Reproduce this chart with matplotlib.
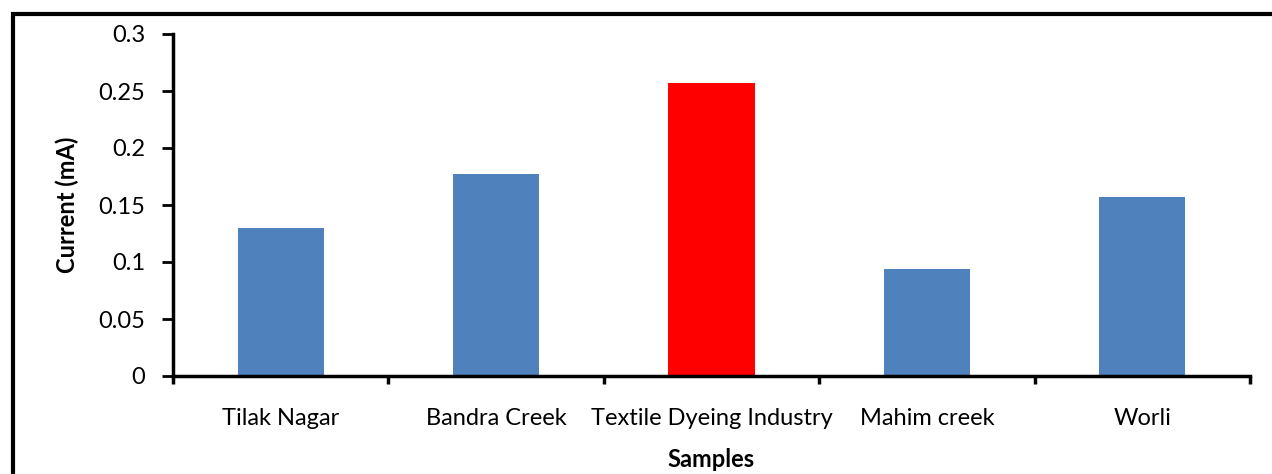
import matplotlib
matplotlib.use("Agg")
import matplotlib.pyplot as plt
from matplotlib.lines import Line2D
import numpy as np

categories = ["Tilak Nagar", "Bandra Creek", "Textile Dyeing Industry", "Mahim creek", "Worli"]
values = [0.130, 0.177, 0.257, 0.094, 0.157]
colors = ["#4F81BD", "#4F81BD", "#FF0000", "#4F81BD", "#4F81BD"]
yticks = [0, 0.05, 0.1, 0.15, 0.2, 0.25, 0.3]
ytick_labels = ["0", "0.05", "0.1", "0.15", "0.2", "0.25", "0.3"]

plt.rcParams['font.family'] = ['Lato', 'DejaVu Sans']
fs = 17

fig = plt.figure(figsize=(12.72, 4.74), dpi=100)
ax = fig.add_axes([173/1272, 1-376/474, (1250-173)/1272, (376-34)/474])

x = np.arange(len(categories))
ax.bar(x, values, width=0.4, color=colors)
ax.set_xlim(-0.5, len(categories)-0.5)
ax.set_ylim(0, 0.3)
ax.set_yticks(yticks)
ax.set_yticklabels(ytick_labels, fontsize=fs)
ax.set_xticks(x)
ax.set_xticklabels(categories, fontsize=fs)
ax.tick_params(axis='x', which='major', length=0, pad=23)
ax.set_xticks(np.arange(len(categories)+1)-0.5, minor=True)
ax.tick_params(axis='x', which='minor', length=6, width=2.5, direction='out')
ax.tick_params(axis='y', length=8, width=2, direction='out', pad=12)

for s in ['top', 'right']:
    ax.spines[s].set_visible(False)
for s in ['left', 'bottom']:
    ax.spines[s].set_linewidth(2.5)
    ax.spines[s].set_color('black')

ax.set_ylabel("Current (mA)", fontsize=fs, fontweight='bold', labelpad=14)
ax.set_xlabel("Samples", fontsize=fs, fontweight='bold', labelpad=14)

x0 = 13/1272
ytop = 1-14/474
fig.add_artist(Line2D([x0, x0, 1.0], [0, ytop, ytop], transform=fig.transFigure,
                      color='black', linewidth=3, solid_joinstyle='miter'))

fig.savefig("out.png", dpi=100)
